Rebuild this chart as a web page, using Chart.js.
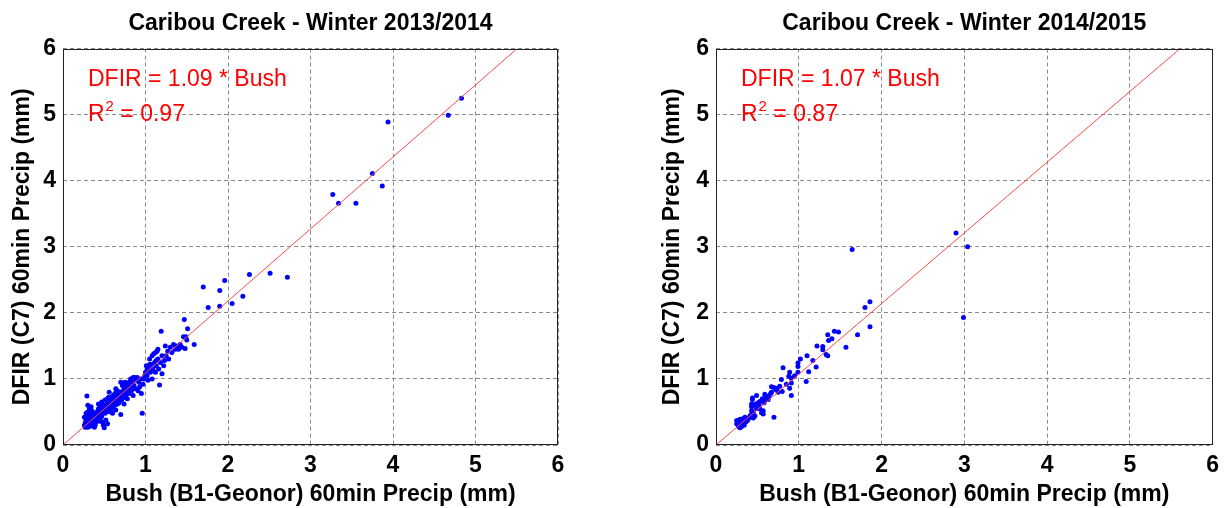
<!DOCTYPE html>
<html><head><meta charset="utf-8">
<script src="https://cdn.jsdelivr.net/npm/chart.js@4/dist/chart.umd.min.js"></script>
<style>
html,body{margin:0;padding:0;background:#fff;width:1226px;height:508px;overflow:hidden}
#c1{position:absolute;left:0;top:0}
#c2{position:absolute;left:650px;top:0}
</style></head><body>
<canvas id="c1" width="613" height="508"></canvas>
<canvas id="c2" width="576" height="508"></canvas>
<script>
// ---------- data ----------
const titles = ['Caribou Creek - Winter 2013/2014', 'Caribou Creek - Winter 2014/2015'];
const xAxisTitle = 'Bush (B1-Geonor) 60min Precip (mm)';
const yAxisTitle = 'DFIR (C7) 60min Precip (mm)';
const tickLabels = ['0','1','2','3','4','5','6'];
const slopes = [1.09, 1.07];
const r2Values = ['0.97', '0.87'];
const fitX = [0, 6];

const bushA = [
 0.26,0.27,0.27,0.28,0.28,0.28,0.29,0.29,0.29,0.30,
 0.30,0.30,0.30,0.31,0.31,0.31,0.32,0.32,0.32,0.33,
 0.33,0.33,0.34,0.34,0.34,0.35,0.35,0.35,0.36,0.36,
 0.36,0.37,0.37,0.38,0.38,0.39,0.39,0.40,0.40,0.26,
 0.28,0.30,0.32,0.34,
 0.41,0.42,0.43,0.43,0.44,0.45,0.45,0.46,0.47,0.47,
 0.48,0.49,0.49,0.50,0.50,0.51,0.51,0.52,0.53,0.53,
 0.54,0.54,0.55,0.56,0.56,0.57,0.57,0.58,0.58,0.59,
 0.60,0.60,0.61,0.62,0.62,0.63,0.63,0.64,0.65,0.65,
 0.66,0.66,0.67,0.68,0.68,0.69,0.70,0.70,0.71,0.72,
 0.72,0.73,0.74,0.74,0.75,0.76,0.77,0.78,0.78,0.79,
 0.80,0.80,0.81,0.82,0.83,0.84,0.85,0.85,0.86,0.87,
 0.88,0.89,0.90,0.91,0.92,0.93,0.94,0.95,0.96,0.97,
 0.98,0.75,0.70,0.55,0.48,0.52,0.44,0.46,0.60,0.64,
 0.42,0.44,0.46,0.48,0.50,0.52,0.55,0.57,0.59,0.61,
 0.63,0.65,0.67,0.69,0.71,0.73,0.76,0.79,0.82,0.84,
 1.00,1.01,1.02,1.03,1.04,1.05,1.06,1.07,1.08,1.09,
 1.10,1.11,1.12,1.13,1.14,1.15,1.16,1.17,1.18,1.19,
 1.20,1.20,1.22,1.23,1.24,1.25,1.27,1.28,1.30,1.32,
 1.34,1.36,1.38,1.40,1.42,1.44,1.46,1.48,1.49,1.50,
 1.47,1.51,1.59,1.05,1.12,1.08,1.15,1.02,0.99,1.13,
 1.70,1.76,1.90,1.90,1.96,2.05,2.18,2.26,2.51,2.72,
 3.27,3.34,3.55,3.75,3.87,3.94,4.67,4.83
];
const dfirA = [
 0.30,0.34,0.27,0.28,0.38,0.48,0.32,0.45,0.74,0.27,
 0.36,0.50,0.60,0.30,0.42,0.38,0.33,0.55,0.28,0.29,
 0.38,0.47,0.31,0.41,0.58,0.35,0.52,0.44,0.30,0.44,
 0.38,0.38,0.33,0.48,0.27,0.40,0.30,0.35,0.45,0.42,
 0.31,0.40,0.46,0.36,
 0.50,0.40,0.55,0.62,0.47,0.36,0.58,0.50,0.65,0.44,
 0.55,0.60,0.30,0.26,0.52,0.48,0.68,0.58,0.62,0.50,
 0.32,0.70,0.55,0.62,0.80,0.58,0.66,0.72,0.50,0.62,
 0.68,0.56,0.75,0.64,0.70,0.60,0.78,0.53,0.68,0.73,
 0.62,0.82,0.70,0.76,0.64,0.72,0.46,0.80,0.68,0.75,
 0.90,0.78,0.62,0.84,0.72,0.88,0.80,0.92,0.70,0.85,
 0.95,0.78,0.88,1.00,0.82,0.95,1.02,0.75,0.90,1.02,
 0.85,0.98,1.02,0.82,0.95,0.88,1.00,0.78,0.48,0.92,
 1.00,0.95,0.95,0.72,0.35,0.38,0.55,0.42,0.48,0.85,
 0.45,0.52,0.56,0.50,0.58,0.55,0.60,0.63,0.66,0.62,
 0.70,0.66,0.74,0.78,0.72,0.82,0.75,0.80,0.88,0.86,
 1.10,1.20,1.05,0.98,1.15,1.30,1.10,1.22,1.00,1.15,
 1.38,1.25,1.10,1.20,1.42,1.30,1.15,0.91,1.25,1.72,
 1.35,1.08,1.20,1.28,1.50,1.35,1.42,1.30,1.48,1.40,
 1.52,1.45,1.50,1.45,1.52,1.48,1.64,1.46,1.64,1.59,
 1.90,1.76,1.52,1.22,1.40,1.35,1.45,1.15,1.05,1.28,
 2.39,2.08,2.34,2.10,2.49,2.14,2.25,2.58,2.60,2.54,
 3.79,3.66,3.66,4.11,3.92,4.89,4.99,5.25
];

const bushB = [
 0.25,0.25,0.27,0.29,0.29,0.30,0.33,0.33,0.36,0.37,
 0.41,0.45,0.45,0.43,0.43,0.43,0.43,0.44,0.44,0.47,
 0.49,0.49,0.51,0.51,0.53,0.53,0.55,0.55,0.57,0.57,
 0.58,0.59,0.59,0.62,0.64,0.67,0.67,0.70,0.70,0.74,
 0.77,0.79,0.80,0.81,0.88,0.89,0.91,0.91,0.91,0.89,
 0.99,0.99,0.99,1.02,1.09,1.10,1.12,1.17,1.21,1.22,
 1.29,1.29,1.33,1.35,1.35,1.36,1.40,1.43,1.48,1.57,
 1.645,1.71,1.80,1.86,1.86,2.90,3.04,2.99,
 0.27,0.28,0.30,0.31,0.32,0.34,0.35,0.38,0.40,0.46,
 0.48,0.52,0.56,0.60,0.63,0.66,0.72,0.75,0.85,0.95
];
const dfirB = [
 0.37,0.32,0.28,0.39,0.26,0.31,0.40,0.33,0.35,0.39,
 0.44,0.49,0.41,0.52,0.47,0.58,0.62,0.71,0.69,0.44,
 0.75,0.55,0.57,0.64,0.66,0.55,0.67,0.49,0.52,0.47,
 0.64,0.77,0.67,0.70,0.74,0.80,0.88,0.87,0.42,0.86,
 0.89,0.99,0.81,1.17,1.04,1.10,1.01,0.94,0.75,0.86,
 1.24,1.19,1.10,1.30,0.96,1.35,1.11,1.28,1.18,1.50,
 1.49,1.44,1.37,1.35,1.67,1.58,1.61,1.72,1.71,1.48,
 2.96,1.67,2.08,2.17,1.79,3.21,3.00,1.93,
 0.33,0.30,0.36,0.28,0.35,0.30,0.42,0.37,0.41,0.60,
 0.62,0.60,0.70,0.74,0.69,0.78,0.84,0.80,0.92,1.05
];

// ---------- rendering ----------
const FAM = '"Liberation Sans", Arial, Helvetica, sans-serif';

const annotPlugin = {
  id: 'annot',
  afterDatasetsDraw(chart, args, opts) {
    const {ctx, chartArea: a} = chart;
    ctx.save();
    ctx.strokeStyle = '#222';
    ctx.lineWidth = 1;
    ctx.setLineDash([]);
    ctx.strokeRect(Math.round(a.left) + 0.5, Math.round(a.top) + 0.5,
                   Math.round(a.right - a.left) - 1, Math.round(a.bottom - a.top) - 1);
    ctx.fillStyle = '#ff0000';
    ctx.textBaseline = 'alphabetic';
    ctx.textAlign = 'left';
    const x = a.left + 25;
    ctx.font = '23px ' + FAM;
    ctx.fillText(opts.eq, x, a.top + 37);
    ctx.fillText('R', x, a.top + 72);
    const wR = ctx.measureText('R').width;
    ctx.font = '15px ' + FAM;
    ctx.fillText('2', x + wR + 1, a.top + 62);
    const w2 = ctx.measureText('2').width;
    ctx.font = '23px ' + FAM;
    ctx.fillText(' = ' + opts.r2, x + wR + 1 + w2, a.top + 72);
    ctx.restore();
  }
};

function makeChart(id, idx, bush, dfir, yWidth, padRight) {
  const pts = bush.map((b, i) => ({x: b, y: dfir[i]}));
  const fit = fitX.map(v => ({x: v, y: slopes[idx] * v}));
  return new Chart(document.getElementById(id), {
    type: 'scatter',
    data: {
      datasets: [
        {
          type: 'line',
          data: fit,
          borderColor: '#ff4a4a',
          borderWidth: 1,
          pointRadius: 0,
          fill: false,
          order: 0
        },
        {
          data: pts,
          backgroundColor: '#0000ff',
          borderColor: '#0000ff',
          borderWidth: 0,
          pointRadius: 2.5,
          order: 1
        }
      ]
    },
    options: {
      responsive: false,
      animation: false,
      devicePixelRatio: 1,
      layout: {padding: {left: 0, right: padRight, top: 0, bottom: 0}},
      plugins: {
        legend: {display: false},
        tooltip: {enabled: false},
        title: {
          display: true,
          text: titles[idx],
          color: '#000',
          fullSize: false,
          font: {family: FAM, size: 23, weight: 'bold', lineHeight: 1.2},
          padding: {top: 10, bottom: 11}
        },
        annot: {eq: 'DFIR = ' + slopes[idx].toFixed(2) + ' * Bush', r2: r2Values[idx]}
      },
      scales: {
        x: {
          type: 'linear',
          min: 0, max: 6,
          ticks: {
            stepSize: 1,
            color: '#000',
            padding: 7,
            font: {family: FAM, size: 23, weight: 'bold'},
            callback: (v) => tickLabels[v] !== undefined ? tickLabels[v] : ''
          },
          grid: {color: '#8a8a8a', lineWidth: 1, drawTicks: false},
          border: {display: false, dash: [4, 3]},
          title: {
            display: true,
            text: xAxisTitle,
            color: '#000',
            font: {family: FAM, size: 23, weight: 'bold', lineHeight: 1.2},
            padding: {top: 0, bottom: 0}
          },
          afterFit(s) { s.height = 63; }
        },
        y: {
          type: 'linear',
          min: 0, max: 6,
          ticks: {
            stepSize: 1,
            color: '#000',
            padding: 7,
            font: {family: FAM, size: 23, weight: 'bold'},
            callback: (v) => tickLabels[v] !== undefined ? tickLabels[v] : ''
          },
          grid: {color: '#8a8a8a', lineWidth: 1, drawTicks: false},
          border: {display: false, dash: [4, 3]},
          title: {
            display: true,
            text: yAxisTitle,
            color: '#000',
            font: {family: FAM, size: 23, weight: 'bold', lineHeight: 1.2},
            padding: {top: 9, bottom: 0}
          },
          afterFit(s) { s.width = yWidth; }
        }
      }
    },
    plugins: [annotPlugin]
  });
}

makeChart('c1', 0, bushA, dfirA, 63, 55);
makeChart('c2', 1, bushB, dfirB, 66, 13);
</script>
</body></html>
